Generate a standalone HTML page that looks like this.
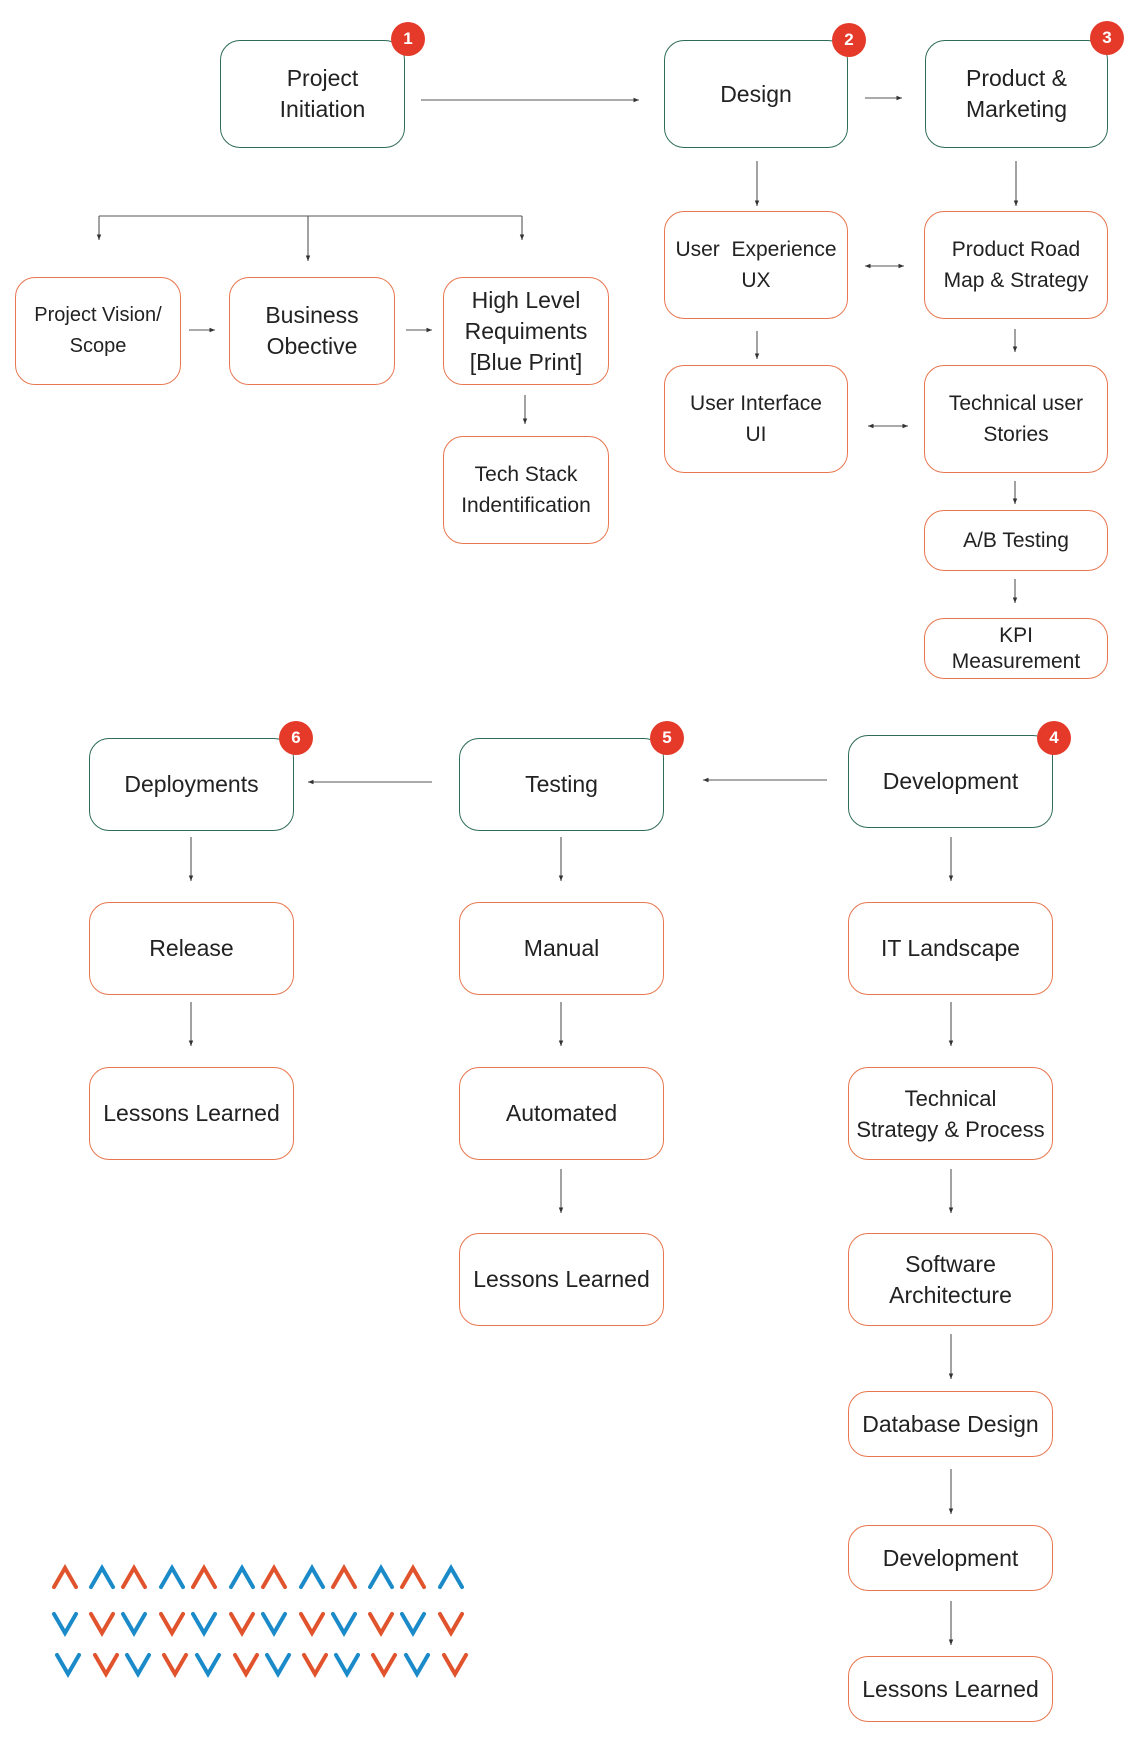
<!DOCTYPE html>
<html><head><meta charset="utf-8"><style>
body{margin:0;background:#fff;}
#c{position:relative;width:1140px;height:1746px;overflow:hidden;font-family:"Liberation Sans",sans-serif;color:#222;}
.b{position:absolute;box-sizing:border-box;border:1.8px solid #e8764f;border-radius:20px;display:flex;align-items:center;justify-content:center;text-align:center;font-size:23px;line-height:31px;background:#fff;}
.g{border-color:#2e6b5a;}
.n{position:absolute;width:34px;height:34px;border-radius:50%;background:#e53a2a;color:#fff;font-size:17px;font-weight:bold;display:flex;align-items:center;justify-content:center;}
svg{position:absolute;left:0;top:0;}
</style></head><body><div id="c">
<svg width="1140" height="1746">
<defs><marker id="a" markerWidth="6" markerHeight="6" refX="5" refY="3" orient="auto"><path d="M0,1 L5,3 L0,5z" fill="#333"/></marker>
<marker id="s" markerWidth="6" markerHeight="6" refX="1" refY="3" orient="auto"><path d="M6,1 L1,3 L6,5z" fill="#333"/></marker></defs>
<g stroke="#555" stroke-width="1.1" fill="none" marker-end="url(#a)">
<line x1="421" y1="100" x2="639" y2="100"/>
<line x1="865" y1="98" x2="902" y2="98"/>
<line x1="757" y1="161" x2="757" y2="206"/>
<line x1="1016" y1="161" x2="1016" y2="206"/>
<line x1="99" y1="216" x2="99" y2="240"/>
<line x1="308" y1="216" x2="308" y2="261"/>
<line x1="522" y1="216" x2="522" y2="240"/>
<line x1="189" y1="330" x2="215" y2="330"/>
<line x1="406" y1="330" x2="432" y2="330"/>
<line x1="525" y1="395" x2="525" y2="424"/>
<line x1="757" y1="331" x2="757" y2="359"/>
<line x1="1015" y1="329" x2="1015" y2="352"/>
<line x1="1015" y1="481" x2="1015" y2="504"/>
<line x1="1015" y1="579" x2="1015" y2="603"/>
<line x1="865" y1="266" x2="904" y2="266" marker-start="url(#s)"/>
<line x1="868" y1="426" x2="908" y2="426" marker-start="url(#s)"/>
<line x1="432" y1="782" x2="308" y2="782"/>
<line x1="827" y1="780" x2="703" y2="780"/>
<line x1="191" y1="837" x2="191" y2="881"/>
<line x1="191" y1="1002" x2="191" y2="1046"/>
<line x1="561" y1="837" x2="561" y2="881"/>
<line x1="561" y1="1002" x2="561" y2="1046"/>
<line x1="561" y1="1169" x2="561" y2="1213"/>
<line x1="951" y1="837" x2="951" y2="881"/>
<line x1="951" y1="1002" x2="951" y2="1046"/>
<line x1="951" y1="1169" x2="951" y2="1213"/>
<line x1="951" y1="1334" x2="951" y2="1379"/>
<line x1="951" y1="1469" x2="951" y2="1514"/>
<line x1="951" y1="1601" x2="951" y2="1645"/>
</g>
<polyline points="99,216 522,216" stroke="#555" stroke-width="1.1" fill="none"/>
<g stroke-width="4" fill="none" stroke-linecap="round" stroke-linejoin="miter">
<polyline points="54,1587 65,1568 76,1587" stroke="#e0532d"/>
<polyline points="91,1587 102,1568 113,1587" stroke="#1a8ac9"/>
<polyline points="123,1587 134,1568 145,1587" stroke="#e0532d"/>
<polyline points="161,1587 172,1568 183,1587" stroke="#1a8ac9"/>
<polyline points="193,1587 204,1568 215,1587" stroke="#e0532d"/>
<polyline points="231,1587 242,1568 253,1587" stroke="#1a8ac9"/>
<polyline points="263,1587 274,1568 285,1587" stroke="#e0532d"/>
<polyline points="301,1587 312,1568 323,1587" stroke="#1a8ac9"/>
<polyline points="333,1587 344,1568 355,1587" stroke="#e0532d"/>
<polyline points="370,1587 381,1568 392,1587" stroke="#1a8ac9"/>
<polyline points="402,1587 413,1568 424,1587" stroke="#e0532d"/>
<polyline points="440,1587 451,1568 462,1587" stroke="#1a8ac9"/>
<polyline points="54,1614 65,1633 76,1614" stroke="#1a8ac9"/>
<polyline points="91,1614 102,1633 113,1614" stroke="#e0532d"/>
<polyline points="123,1614 134,1633 145,1614" stroke="#1a8ac9"/>
<polyline points="161,1614 172,1633 183,1614" stroke="#e0532d"/>
<polyline points="193,1614 204,1633 215,1614" stroke="#1a8ac9"/>
<polyline points="231,1614 242,1633 253,1614" stroke="#e0532d"/>
<polyline points="263,1614 274,1633 285,1614" stroke="#1a8ac9"/>
<polyline points="301,1614 312,1633 323,1614" stroke="#e0532d"/>
<polyline points="333,1614 344,1633 355,1614" stroke="#1a8ac9"/>
<polyline points="370,1614 381,1633 392,1614" stroke="#e0532d"/>
<polyline points="402,1614 413,1633 424,1614" stroke="#1a8ac9"/>
<polyline points="440,1614 451,1633 462,1614" stroke="#e0532d"/>
<polyline points="57,1655 68,1674 79,1655" stroke="#1a8ac9"/>
<polyline points="95,1655 106,1674 117,1655" stroke="#e0532d"/>
<polyline points="127,1655 138,1674 149,1655" stroke="#1a8ac9"/>
<polyline points="164,1655 175,1674 186,1655" stroke="#e0532d"/>
<polyline points="197,1655 208,1674 219,1655" stroke="#1a8ac9"/>
<polyline points="235,1655 246,1674 257,1655" stroke="#e0532d"/>
<polyline points="267,1655 278,1674 289,1655" stroke="#1a8ac9"/>
<polyline points="304,1655 315,1674 326,1655" stroke="#e0532d"/>
<polyline points="336,1655 347,1674 358,1655" stroke="#1a8ac9"/>
<polyline points="373,1655 384,1674 395,1655" stroke="#e0532d"/>
<polyline points="406,1655 417,1674 428,1655" stroke="#1a8ac9"/>
<polyline points="444,1655 455,1674 466,1655" stroke="#e0532d"/>
</g>
</svg>
<div class="b g" style="left:220px;top:40px;width:185px;height:108px;padding-left:20px;">Project<br>Initiation</div>
<div class="b g" style="left:664px;top:40px;width:184px;height:108px;">Design</div>
<div class="b g" style="left:925px;top:40px;width:183px;height:108px;">Product &amp;<br>Marketing</div>
<div class="n" style="left:391px;top:22px;">1</div>
<div class="n" style="left:832px;top:23px;">2</div>
<div class="n" style="left:1090px;top:21px;">3</div>
<div class="b" style="left:15px;top:277px;width:166px;height:108px;font-size:20px;">Project Vision/<br>Scope</div>
<div class="b" style="left:229px;top:277px;width:166px;height:108px;">Business<br>Obective</div>
<div class="b" style="left:443px;top:277px;width:166px;height:108px;">High Level<br>Requiments<br>[Blue Print]</div>
<div class="b" style="left:443px;top:436px;width:166px;height:108px;font-size:21px;">Tech Stack<br>Indentification</div>
<div class="b" style="left:664px;top:211px;width:184px;height:108px;font-size:21px;">User &nbsp;Experience<br>UX</div>
<div class="b" style="left:924px;top:211px;width:184px;height:108px;font-size:21px;">Product Road<br>Map &amp; Strategy</div>
<div class="b" style="left:664px;top:365px;width:184px;height:108px;font-size:21px;">User Interface<br>UI</div>
<div class="b" style="left:924px;top:365px;width:184px;height:108px;font-size:21px;">Technical user<br>Stories</div>
<div class="b" style="left:924px;top:510px;width:184px;height:61px;font-size:21px;">A/B Testing</div>
<div class="b" style="left:924px;top:618px;width:184px;height:61px;font-size:21px;line-height:26px;">KPI<br>Measurement</div>
<div class="b g" style="left:89px;top:738px;width:205px;height:93px;">Deployments</div>
<div class="b g" style="left:459px;top:738px;width:205px;height:93px;">Testing</div>
<div class="b g" style="left:848px;top:735px;width:205px;height:93px;">Development</div>
<div class="n" style="left:279px;top:721px;">6</div>
<div class="n" style="left:650px;top:721px;">5</div>
<div class="n" style="left:1037px;top:721px;">4</div>
<div class="b" style="left:89px;top:902px;width:205px;height:93px;">Release</div>
<div class="b" style="left:89px;top:1067px;width:205px;height:93px;">Lessons Learned</div>
<div class="b" style="left:459px;top:902px;width:205px;height:93px;">Manual</div>
<div class="b" style="left:459px;top:1067px;width:205px;height:93px;">Automated</div>
<div class="b" style="left:459px;top:1233px;width:205px;height:93px;">Lessons Learned</div>
<div class="b" style="left:848px;top:902px;width:205px;height:93px;">IT Landscape</div>
<div class="b" style="left:848px;top:1067px;width:205px;height:93px;font-size:22px;">Technical<br>Strategy &amp; Process</div>
<div class="b" style="left:848px;top:1233px;width:205px;height:93px;">Software<br>Architecture</div>
<div class="b" style="left:848px;top:1391px;width:205px;height:66px;">Database Design</div>
<div class="b" style="left:848px;top:1525px;width:205px;height:66px;">Development</div>
<div class="b" style="left:848px;top:1656px;width:205px;height:66px;">Lessons Learned</div>
</div></body></html>
